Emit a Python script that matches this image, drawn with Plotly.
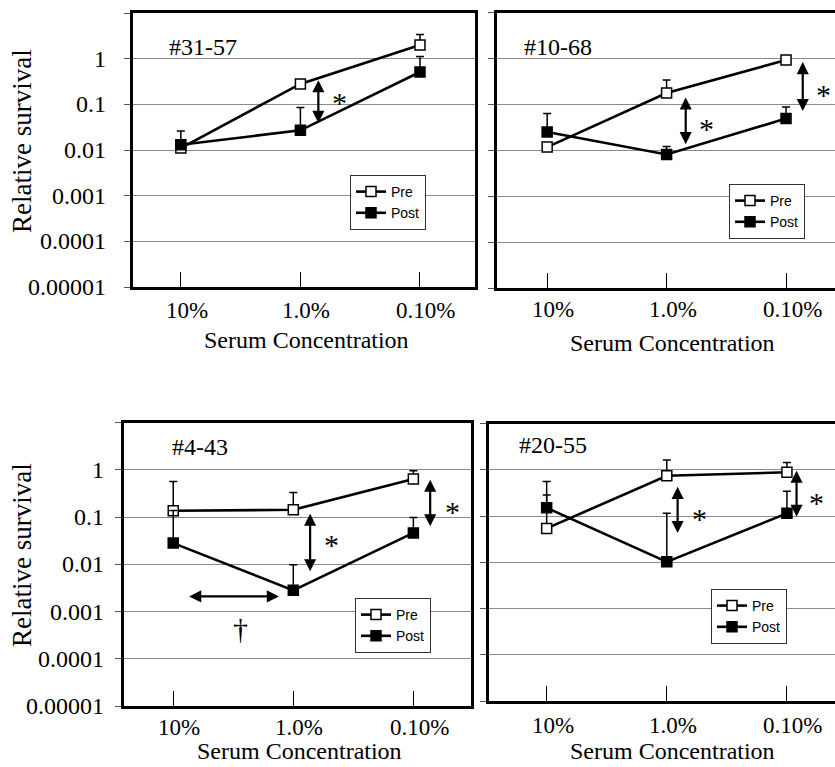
import math
import plotly.graph_objects as go

W, H = 835, 767

categories = ["10%", "1.0%", "0.10%"]

# Panel #31-57
p1_pre = [0.011, 0.28, 2.0]
p1_pre_err = [0, 0, 1.4]
p1_post = [0.013, 0.027, 0.51]
p1_post_err = [0.013, 0.058, 0.6]

# Panel #10-68
p2_pre = [0.0117, 0.177, 0.92]
p2_pre_err = [0, 0.16, 0.15]
p2_post = [0.025, 0.0081, 0.049]
p2_post_err = [0.038, 0.004, 0.038]

# Panel #4-43
p3_pre = [0.136, 0.142, 0.64]
p3_pre_err = [0.43, 0.19, 0.31]
p3_post = [0.028, 0.0028, 0.046]
p3_post_err = [0.11, 0.007, 0.052]

# Panel #20-55
p4_pre = [0.054, 0.74, 0.88]
p4_pre_err = [0.23, 0.89, 0.55]
p4_post = [0.15, 0.0102, 0.114]
p4_post_err = [0.41, 0.105, 0.23]

panel_titles = ["#31-57", "#10-68", "#4-43", "#20-55"]
ytick_vals = [1e-5, 1e-4, 1e-3, 1e-2, 1e-1, 1, 10]
ytick_text = ["0.00001", "0.0001", "0.001", "0.01", "0.1", "1", ""]

SERIF = "Liberation Serif"
SANS = "Liberation Sans"

def px_x(p):
    return p / W

def px_y(p):
    return 1 - p / H

# layout geometry (pixels of the 835x767 reference)
panels = [
    dict(x0=133, x1=475, y0=13, y1=287, xr=[-0.40, 2.46], ylab_right=108,
         mirror_y=True, xlab_y=310,
         leg=(350, 175), title=(167, 47), xt=(306, 340), yt=(22, 141)),
    dict(x0=497, x1=835, y0=12.5, y1=288, xr=[-0.42, 2.41], ylab_right=None,
         mirror_y=False, xlab_y=309,
         leg=(729, 184), title=(522, 47), xt=(672, 343), yt=None),
    dict(x0=124, x1=471, y0=422.5, y1=706, xr=[-0.41, 2.48], ylab_right=106,
         mirror_y=True, xlab_y=727,
         leg=(355, 598), title=(170, 447), xt=(299, 751), yt=(22, 555)),
    dict(x0=489, x1=835, y0=423.5, y1=701, xr=[-0.48, 2.40], ylab_right=None,
         mirror_y=False, xlab_y=725,
         leg=(711, 589), title=(517, 445), xt=(672, 751), yt=None),
]

series = [
    (p1_pre, p1_pre_err, p1_post, p1_post_err),
    (p2_pre, p2_pre_err, p2_post, p2_post_err),
    (p3_pre, p3_pre_err, p3_post, p3_post_err),
    (p4_pre, p4_pre_err, p4_post, p4_post_err),
]

fig = go.Figure()
annotations = []
layout = {}

for i, (pan, (pre, pre_e, post, post_e)) in enumerate(zip(panels, series)):
    n = "" if i == 0 else str(i + 1)
    xa, ya = "x" + n, "y" + n
    leg = "legend" + n
    for name, vals, errs, fill in [("Pre", pre, pre_e, "white"), ("Post", post, post_e, "black")]:
        fig.add_trace(go.Scatter(
            x=categories, y=vals, name=name, mode="lines+markers",
            xaxis=xa, yaxis=ya, legend=leg,
            line=dict(color="black", width=2.6),
            marker=dict(symbol="square", size=10, color=fill,
                        line=dict(color="black", width=1.5)),
            error_y=dict(type="data", symmetric=False, array=errs,
                         arrayminus=[0] * len(errs), color="black",
                         thickness=1.5, width=4),
            showlegend=True,
        ))
    layout["xaxis" + n] = dict(
        domain=[px_x(pan["x0"]), min(1.0, px_x(pan["x1"]))],
        anchor=ya, type="category", range=pan["xr"],
        categoryorder="array", categoryarray=categories,
        showline=True, linecolor="black", linewidth=2.6, mirror=True,
        ticks="inside", ticklen=15, tickwidth=1.2, tickcolor="black",
        showgrid=False, zeroline=False, showticklabels=False,
    )
    layout["yaxis" + n] = dict(
        domain=[px_y(pan["y1"]), px_y(pan["y0"])],
        anchor=xa, type="log", range=[-5, 1],
        tickvals=ytick_vals, showticklabels=False,
        showline=True, linecolor="black", linewidth=2.6, mirror=pan["mirror_y"],
        ticks="outside", ticklen=6, tickwidth=1.2, tickcolor="#555555",
        showgrid=True, gridcolor="#8a8a8a", gridwidth=1, zeroline=False,
    )
    layout[leg] = dict(
        x=px_x(pan["leg"][0]), y=px_y(pan["leg"][1]), xanchor="left", yanchor="top",
        bgcolor="white", bordercolor="#333333", borderwidth=1,
        font=dict(family=SANS, size=14, color="black"),
        itemwidth=30, tracegroupgap=0,
    )
    # category tick labels placed under the category positions
    for c in categories:
        annotations.append(dict(text=c, xref=xa, yref="paper", x=c,
                                y=px_y(pan["xlab_y"]), xshift=6,
                                xanchor="center", yanchor="middle", showarrow=False,
                                font=dict(family=SERIF, size=23, color="black")))
    # log tick labels
    if pan["ylab_right"]:
        for v, t in zip(ytick_vals, ytick_text):
            if not t:
                continue
            annotations.append(dict(text=t, xref="paper", yref=ya,
                                    x=px_x(pan["ylab_right"]), y=math.log10(v),
                                    xanchor="right", yanchor="middle", showarrow=False,
                                    font=dict(family=SERIF, size=24, color="black")))
    annotations.append(dict(text=panel_titles[i], xref="paper", yref="paper",
                            x=px_x(pan["title"][0]), y=px_y(pan["title"][1]),
                            xanchor="left", yanchor="middle", showarrow=False,
                            font=dict(family=SERIF, size=24, color="black")))
    annotations.append(dict(text="Serum Concentration", xref="paper", yref="paper",
                            x=px_x(pan["xt"][0]), y=px_y(pan["xt"][1]),
                            xanchor="center", yanchor="middle", showarrow=False,
                            font=dict(family=SERIF, size=24, color="black")))
    if pan["yt"]:
        annotations.append(dict(text="Relative survival", xref="paper", yref="paper",
                                x=px_x(pan["yt"][0]), y=px_y(pan["yt"][1]),
                                xanchor="center", yanchor="middle", showarrow=False,
                                textangle=-90,
                                font=dict(family=SERIF, size=27, color="black")))

# significance markers (x in category index units, y in log10 units)
v_arrows = [
    (0, 1.15, -0.47, -1.44),
    (1, 1.16, -0.85, -1.90), (1, 2.14, -0.08, -1.18),
    (2, 1.14, -0.93, -2.18), (2, 2.14, -0.21, -1.23),
    (3, 1.09, -0.37, -1.40), (3, 2.08, -0.02, -1.05),
]
stars = [
    (0, 1.33, -0.82), (1, 1.33, -1.40), (1, 2.31, -0.65),
    (2, 1.32, -1.46), (2, 2.33, -0.76), (3, 1.27, -0.92), (3, 2.25, -0.58),
]

def refs(i):
    n = "" if i == 0 else str(i + 1)
    return "x" + n, "y" + n

for (i, x, yt, yb) in v_arrows:
    xr, yr = refs(i)
    annotations.append(dict(text="", xref=xr, yref=yr, x=x, y=yt, ax=x, ay=yb,
                            axref=xr, ayref=yr, showarrow=True, arrowhead=2,
                            arrowside="end+start", arrowsize=1.1, arrowwidth=2.2,
                            arrowcolor="black", standoff=0, startstandoff=0))
for (i, x, y) in stars:
    xr, yr = refs(i)
    annotations.append(dict(text="*", xref=xr, yref=yr, x=x, y=y, showarrow=False,
                            xanchor="center", yanchor="middle", yshift=-6,
                            font=dict(family=SERIF, size=30, color="black")))

xr, yr = refs(2)
annotations.append(dict(text="", xref=xr, yref=yr, x=0.88, y=-2.68, ax=0.12, ay=-2.68,
                        axref=xr, ayref=yr, showarrow=True, arrowhead=2,
                        arrowside="end+start", arrowsize=1.1, arrowwidth=2.2,
                        arrowcolor="black", standoff=0, startstandoff=0))
annotations.append(dict(text="†", xref=xr, yref=yr, x=0.56, y=-3.35, showarrow=False,
                        xanchor="center", yanchor="middle",
                        font=dict(family=SERIF, size=30, color="black")))

fig.update_layout(
    width=W, height=H, autosize=False, margin=dict(l=0, r=0, t=0, b=0),
    paper_bgcolor="white", plot_bgcolor="white",
    annotations=annotations, **layout,
)

post = (
    "document.documentElement.style.margin='0';"
    "document.body.style.margin='0';"
    "document.body.style.overflow='hidden';"
)
fig.write_html("out.html", config={"displayModeBar": False, "responsive": False},
               post_script=post)
